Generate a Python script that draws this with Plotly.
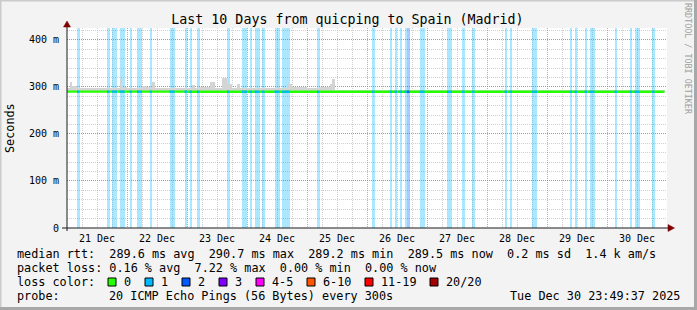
import plotly.graph_objects as go
from datetime import datetime, timedelta

# ---------------- data ----------------
START = datetime(2025, 12, 21)
N_DAYS = 10
N_HOURS = 239          # hourly consolidated samples drawn
Y_MAX = 425            # top of the value axis (ms)

# hours (from 21 Dec 00:00) with packet loss
loss1_hours = [4, 16, 18, 19, 21, 22, 25, 28, 29, 33, 41, 42, 47, 49, 52, 64,
               70, 71, 73, 75, 76, 78, 83, 84, 86, 87, 88, 100, 122, 129, 131,
               133, 135, 141, 142, 152, 153, 158, 162, 175, 177, 186, 187, 201,
               203, 207, 209, 210, 219, 225, 227, 228, 234]
loss2_hours = [136]

# median rtt per day (ms)
day_median = [289.8, 289.7, 289.6, 289.6, 289.5, 289.6, 289.5, 289.6, 289.5, 289.5]

# smoke (ping spread) : low edge and top edge per hour range (ms)
smoke_low = 289.0
smoke_base = [(0, 107, 297), (107, 239, 293)]
smoke_peaks = [(1, 2, 311), (2, 4, 301), (21, 22, 319), (22, 24, 300), (30, 32, 302),
               (32, 34, 300), (34, 35, 310), (50, 51, 304), (52, 57, 300), (57, 59, 310),
               (60, 62, 298), (62, 64, 318), (64, 66, 306), (68, 69, 305), (84, 85, 300),
               (88, 90, 306), (90, 96, 300), (101, 105, 300), (105, 106, 306), (106, 107, 316)]

y_tickvals = [0, 100, 200, 300, 400]
y_ticktext = ["0", "100 m", "200 m", "300 m", "400 m"]

loss_labels = ["0", "1", "2", "3", "4-5", "6-10", "11-19", "20/20"]
loss_colors = ["#26ff00", "#00b8ff", "#0059ff", "#7e00ff", "#ff00ff", "#ff5500", "#ff0000", "#a10000"]

rtt_stats = [("289.6 ms", "avg"), ("290.7 ms", "max"), ("289.2 ms", "min"),
             ("289.5 ms", "now"), ("0.2 ms", "sd"), ("1.4 k", "am/s")]
loss_stats = [("0.16 %", "avg"), ("7.22 %", "max"), ("0.00 %", "min"), ("0.00 %", "now")]
probe_text = "20 ICMP Echo Pings (56 Bytes) every 300s"
stamp_text = "Tue Dec 30 23:49:37 2025"
title_text = "Last 10 Days from quicping to Spain (Madrid)"

# ---------------- helpers ----------------
MONO = "DejaVu Sans Mono"
W, H = 697, 310
L, T, PW, PH = 67, 28, 600, 200
HOUR_MS = 3600 * 1000


def px(X):
    return (X - L) / PW


def py(Y):
    return (T + PH - Y) / PH


def hour_t(h):
    return START + timedelta(hours=h)


def nb(s):
    return s.replace(" ", "\u00a0")


def rgba(hexc, a):
    hexc = hexc.lstrip("#")
    r, g, b = int(hexc[0:2], 16), int(hexc[2:4], 16), int(hexc[4:6], 16)
    return f"rgba({r},{g},{b},{a})"


fig = go.Figure()

# loss background bars
for hours, col in [(loss1_hours, loss_colors[1]), (loss2_hours, loss_colors[2])]:
    fig.add_trace(go.Bar(
        x=[hour_t(h + 0.5) for h in hours], y=[Y_MAX] * len(hours), base=0,
        width=HOUR_MS, marker=dict(color=rgba(col, 0.33), line=dict(width=0)),
        hoverinfo="skip"))

# smoke
smoke_top = {}
for a, b, v in smoke_base + smoke_peaks:
    for h in range(a, b):
        smoke_top[h] = v
hrs = list(range(N_HOURS))
fig.add_trace(go.Bar(
    x=[hour_t(h + 0.5) for h in hrs], y=[smoke_top[h] - smoke_low for h in hrs],
    base=smoke_low, width=HOUR_MS,
    marker=dict(color="#d4d4d4", line=dict(width=0)), hoverinfo="skip"))

# median line (green) + loss coloured pieces
med = [day_median[h // 24] for h in hrs]
fig.add_trace(go.Scatter(
    x=[hour_t(h) for h in hrs] + [hour_t(N_HOURS)], y=med + [med[-1]],
    mode="lines", line=dict(color=loss_colors[0], width=2.4, shape="hv"), hoverinfo="skip"))
for hours, col in [(loss1_hours, loss_colors[1]), (loss2_hours, loss_colors[2])]:
    xs, ys = [], []
    for h in hours:
        xs += [hour_t(h), hour_t(h + 1), None]
        ys += [med[h], med[h], None]
    fig.add_trace(go.Scatter(x=xs, y=ys, mode="lines",
                             line=dict(color=col, width=2.4), hoverinfo="skip"))

# ---------------- decorations ----------------
shapes = []
# frame
shapes.append(dict(type="rect", xref="paper", yref="paper", x0=px(0), x1=px(W), y0=py(0), y1=py(1.5),
                   fillcolor="#cbcbcb", line=dict(width=0), layer="below"))
shapes.append(dict(type="rect", xref="paper", yref="paper", x0=px(0), x1=px(1.5), y0=py(0), y1=py(H),
                   fillcolor="#cbcbcb", line=dict(width=0), layer="below"))
shapes.append(dict(type="rect", xref="paper", yref="paper", x0=px(W - 3), x1=px(W), y0=py(0), y1=py(H),
                   fillcolor="#a8a8a8", line=dict(width=0), layer="below"))
shapes.append(dict(type="rect", xref="paper", yref="paper", x0=px(0), x1=px(W), y0=py(H - 3), y1=py(H),
                   fillcolor="#a8a8a8", line=dict(width=0), layer="below"))
# axis lines
shapes.append(dict(type="line", xref="paper", yref="paper", x0=px(62), x1=px(668), y0=py(228), y1=py(228),
                   line=dict(color="#1a1a1a", width=1)))
shapes.append(dict(type="line", xref="paper", yref="paper", x0=px(67), x1=px(67), y0=py(231), y1=py(26),
                   line=dict(color="#1a1a1a", width=1)))
# arrows
shapes.append(dict(type="path", xref="paper", yref="paper",
                   path=f"M {px(668)},{py(224.5)} L {px(674.5)},{py(228)} L {px(668)},{py(231.5)} Z",
                   fillcolor="#7f0000", line=dict(color="#7f0000", width=0.5)))
shapes.append(dict(type="path", xref="paper", yref="paper",
                   path=f"M {px(63.5)},{py(27)} L {px(67)},{py(21)} L {px(70.5)},{py(27)} Z",
                   fillcolor="#7f0000", line=dict(color="#7f0000", width=0.5)))

annotations = []


def txt(X, Y, s, anchor="left", size=11.8, color="black", angle=0):
    annotations.append(dict(xref="paper", yref="paper", x=px(X), y=py(Y), text=nb(s),
                            showarrow=False, xanchor=anchor, yanchor="middle", textangle=angle,
                            font=dict(family=MONO, size=size, color=color), borderpad=0))


row1 = "median rtt:  " + "  ".join(f"{v} {k}" for v, k in rtt_stats)
row2 = "packet loss: " + "  ".join(f"{v} {k}" for v, k in loss_stats)
txt(16, 254.3, row1)
txt(16, 268.3, row2)
txt(16, 282.3, "loss color:")
box_x = [108, 145, 182, 219, 256, 307, 365, 430]
for bx, lab, col in zip(box_x, loss_labels, loss_colors):
    shapes.append(dict(type="rect", xref="paper", yref="paper", x0=px(bx), x1=px(bx + 8),
                       y0=py(278), y1=py(286), fillcolor=col, line=dict(color="black", width=1)))
    txt(bx + 15, 282.3, lab)
txt(16, 296.3, "probe:")
txt(108, 296.3, probe_text)
txt(681, 296.3, stamp_text, anchor="right")
txt(10, 128, "Seconds", anchor="center", angle=-90)
txt(688, 59, "RRDTOOL / TOBI OETIKER", anchor="center", size=8.4, color="#a0a0a0", angle=90)

fig.update_layout(
    width=W, height=H, margin=dict(l=L, r=W - L - PW, t=T, b=H - T - PH, autoexpand=False),
    paper_bgcolor="#f3f3f3", plot_bgcolor="white", showlegend=False,
    barmode="overlay", bargap=0,
    font=dict(family=MONO, size=10, color="black"),
    title=dict(text=title_text, x=0.4985, xref="container", xanchor="center",
               y=1 - 19 / H, yanchor="middle", font=dict(family=MONO, size=13.3, color="black")),
    shapes=shapes, annotations=annotations,
    xaxis=dict(type="date", range=[START, START + timedelta(days=N_DAYS)],
               tick0=START, dtick=86400000, tickformat="%d %b", ticklabelmode="period",
               showgrid=True, gridcolor="rgba(230,80,80,0.6)", griddash="1px,1px", gridwidth=1,
               minor=dict(tick0=START, dtick=6 * HOUR_MS, showgrid=True,
                          gridcolor="rgba(150,150,150,0.45)", griddash="1px,1px", gridwidth=1),
               showline=False, zeroline=False, ticks="", tickfont=dict(size=10),
               automargin=False, ticklabelstandoff=3, fixedrange=True),
    yaxis=dict(range=[0, Y_MAX], tickvals=y_tickvals, ticktext=y_ticktext,
               showgrid=True, gridcolor="rgba(230,80,80,0.6)", griddash="1px,1px", gridwidth=1,
               minor=dict(tick0=0, dtick=20, showgrid=True,
                          gridcolor="rgba(150,150,150,0.45)", griddash="1px,1px", gridwidth=1),
               showline=False, zeroline=False, ticks="", tickfont=dict(size=10),
               automargin=False, ticklabelstandoff=7, fixedrange=True),
)

fig.write_html("out.html", config={"displayModeBar": False})
